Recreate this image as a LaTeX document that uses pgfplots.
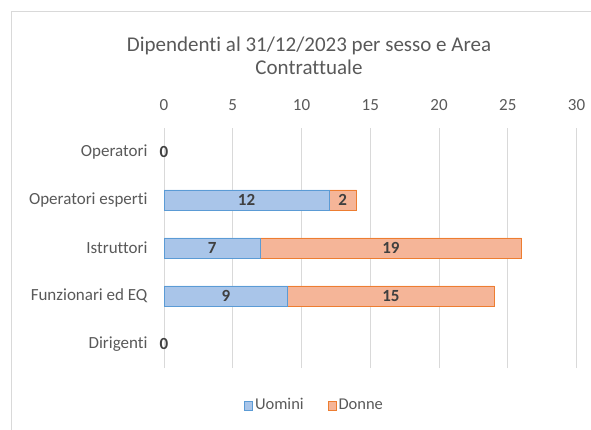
\documentclass[border=0pt]{standalone}
\usepackage{pgfplots}
\pgfplotsset{compat=1.18}
\usepackage{pgfplotstable}
\usepackage{fontspec}
\setmainfont{Carlito}[Ligatures={NoCommon}]
\definecolor{txt}{HTML}{595959}
\definecolor{lbl}{HTML}{404040}
\definecolor{blueF}{HTML}{A9C5E9}
\definecolor{blueE}{HTML}{5B9BD5}
\definecolor{orF}{HTML}{F5B598}
\definecolor{orE}{HTML}{ED7D31}
\definecolor{gridc}{HTML}{D9D9D9}

% categories: 4 = Operatori (top) ... 0 = Dirigenti (bottom)
\pgfplotstableread{
cat uomini
3 12
2 7
1 9
}\uomini
\pgfplotstableread{
cat donne
3 2
2 19
1 15
}\donne

\begin{document}
\begin{tikzpicture}[x=1pt,y=1pt]
\useasboundingbox (0,0) rectangle (591,-430);
\draw[gridc, line width=1pt] (11,-431) -- (11,-12) -- (592,-12);
\node[text=txt, font=\fontsize{21}{23}\selectfont, align=center] at (309,-56) {Dipendenti al 31/12/2023 per sesso e Area\\Contrattuale};
\begin{axis}[
  at={(164pt,-128pt)}, anchor=north west,
  scale only axis, width=412.5pt, height=240pt,
  xbar stacked, bar width=20pt,
  xmin=0, xmax=30, ymin=-0.5, ymax=4.5,
  xtick={0,5,...,30}, ytick={0,...,4},
  yticklabels={Dirigenti, Funzionari ed EQ, Istruttori, Operatori esperti, Operatori},
  xticklabel pos=upper,
  axis line style={draw=none},
  major tick length=0pt,
  xmajorgrids, grid style={gridc, line width=0.8pt},
  ticklabel style={text=txt, font=\fontsize{17}{20}\selectfont},
  /pgf/number format/assume math mode=true,
  yticklabel style={anchor=east, xshift=-13pt},
  xticklabel style={yshift=14pt},
  legend style={at={(0.365,-0.154)}, anchor=center, draw=none, fill=none,
    legend columns=2, font=\fontsize{16.5}{19}\selectfont, text=txt,
    /tikz/every even column/.append style={column sep=22pt},
    inner sep=0pt},
  legend image code/.code={\draw[#1, line width=0.8pt] (0pt,-5.5pt) rectangle (8pt,3.5pt);},
  legend cell align=left,
]
\addplot[fill=blueF, draw=blueE, line width=0.8pt] table[x=uomini, y=cat] {\uomini};
\addlegendentry{Uomini}
\addplot[fill=orF, draw=orE, line width=0.8pt] table[x=donne, y=cat] {\donne};
\addlegendentry{Donne}
\end{axis}
\begin{axis}[
  at={(164pt,-128pt)}, anchor=north west,
  scale only axis, width=412.5pt, height=240pt,
  xmin=0, xmax=30, ymin=-0.5, ymax=4.5,
  hide axis,
]
\addplot[draw=none, mark=none, nodes near coords={\pgfplotspointmeta},
  point meta=explicit symbolic,
  every node near coord/.append style={anchor=center, text=lbl,
    font=\bfseries\fontsize{17}{20}\selectfont}]
  coordinates {(0,4) [0] (6,3) [12] (13,3) [2] (3.5,2) [7] (16.5,2) [19] (4.5,1) [9] (16.5,1) [15] (0,0) [0]};
\end{axis}
\end{tikzpicture}
\end{document}
